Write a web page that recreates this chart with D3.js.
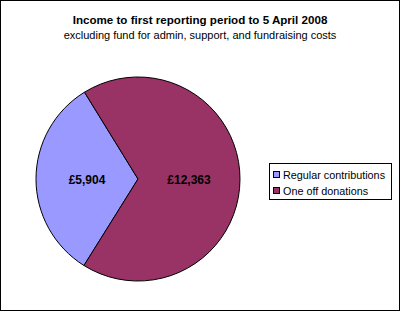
<!doctype html>
<html lang="en-GB">
<head>
<meta charset="utf-8">
<title>Income pie</title>
<script src="https://cdn.jsdelivr.net/npm/d3@7"></script>
<style>
  html, body { margin: 0; padding: 0; background: #fff; }
  svg { display: block; font-family: "Liberation Sans", Arial, sans-serif; }
</style>
</head>
<body>
<svg id="chart" width="401" height="312"></svg>
<script>
// data
var categories = ["Regular contributions", "One off donations"];
var amounts = [5904, 12363];
var labels = ["£5,904", "£12,363"];
var colours = ["#9999ff", "#993366"];

var svg = d3.select("#chart");

// outer frame
svg.append("rect")
  .attr("x", 0.5).attr("y", 0.5)
  .attr("width", 399).attr("height", 310)
  .attr("fill", "#fff").attr("stroke", "#000");

// titles
svg.append("text")
  .attr("x", 200).attr("y", 24)
  .attr("text-anchor", "middle")
  .style("font-size", "11.6px").style("font-weight", "bold")
  .text("Income to first reporting period to 5 April 2008");
svg.append("text")
  .attr("x", 200).attr("y", 39)
  .attr("text-anchor", "middle")
  .style("font-size", "11px")
  .text("excluding fund for admin, support, and fundraising costs");

// pie, first slice starts at ~212 degrees like excel does
var cx = 138, cy = 179, r = 102;
var start = 212 * Math.PI / 180;
var pie = d3.pie().sort(null).startAngle(start).endAngle(start + 2 * Math.PI);
var arc = d3.arc().innerRadius(0).outerRadius(r);
var slices = pie(amounts);

var g = svg.append("g").attr("transform", "translate(" + cx + "," + cy + ")");
g.selectAll("path").data(slices).enter().append("path")
  .attr("d", arc)
  .attr("fill", function(d, i) { return colours[i]; })
  .attr("stroke", "#000").attr("stroke-width", 1);

var labelArc = d3.arc().innerRadius(r * 0.5).outerRadius(r * 0.5);
g.selectAll("text.lbl").data(slices).enter().append("text")
  .attr("class", "lbl")
  .attr("transform", function(d, i) {
    var p = labelArc.centroid(d);
    return "translate(" + p[0] + "," + (p[1] + 5) + ")";
  })
  .attr("text-anchor", "middle")
  .style("font-size", "12px").style("font-weight", "bold")
  .text(function(d, i) { return labels[i]; });

// legend
var leg = svg.append("g").attr("transform", "translate(269,163)");
leg.append("rect")
  .attr("x", 0.5).attr("y", 0.5)
  .attr("width", 122).attr("height", 36)
  .attr("fill", "#fff").attr("stroke", "#000");
var items = leg.selectAll("g.item").data(categories).enter().append("g")
  .attr("class", "item")
  .attr("transform", function(d, i) { return "translate(4," + (8 + i * 16) + ")"; });
items.append("rect")
  .attr("x", 0.5).attr("y", 0.5)
  .attr("width", 6).attr("height", 6)
  .attr("fill", function(d, i) { return colours[i]; })
  .attr("stroke", "#000");
items.append("text")
  .attr("x", 10).attr("y", 7.5)
  .style("font-size", "10.8px")
  .text(function(d) { return d; });
</script>
</body>
</html>
